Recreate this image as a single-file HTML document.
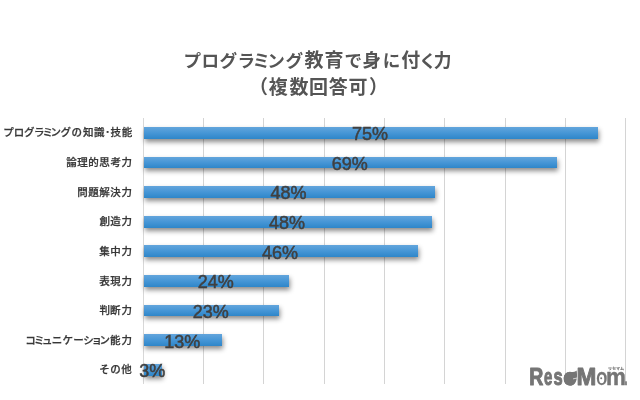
<!DOCTYPE html>
<html lang="ja"><head><meta charset="utf-8"><title>プログラミング教育で身に付く力</title>
<style>
html,body{margin:0;padding:0;background:#fff;}
body{width:640px;height:400px;position:relative;overflow:hidden;font-family:"Liberation Sans","Noto Sans CJK JP",sans-serif;}
.ts{position:absolute;left:0;top:0;font-family:"Liberation Sans","Noto Sans CJK JP",sans-serif;font-weight:bold;fill:#555;}
.ls{position:absolute;left:0;top:0;font-family:"Liberation Sans","Noto Sans CJK JP",sans-serif;font-size:10.5px;font-weight:500;fill:#383838;stroke:#383838;stroke-width:.25px;}
.vs{position:absolute;left:0;top:0;font-family:"Liberation Sans",sans-serif;font-size:18px;fill:#404040;text-anchor:middle;stroke:#404040;stroke-width:.5px;}
.g{position:absolute;top:118px;height:266px;width:1px;background:#c4c4c4;}
.b{position:absolute;left:144px;height:11.7px;background:linear-gradient(#63a5dc,#4696d6 50%,#2e86c9);box-shadow:1px 3px 5.5px rgba(0,0,0,.46);}
.lg{position:absolute;left:0;top:0;}
</style></head><body>
<svg class="ts" width="640" height="110" viewBox="0 0 640 110"><text y="67.0"><tspan x="183.51" font-size="17.6">プ</tspan><tspan x="201.56" font-size="17.6">ロ</tspan><tspan x="219.56" font-size="17.6">グ</tspan><tspan x="237.43" font-size="17.6">ラ</tspan><tspan x="252.47" font-size="17.6">ミ</tspan><tspan x="267.15" font-size="17.6">ン</tspan><tspan x="285.56" font-size="17.6">グ</tspan><tspan x="304.45" font-size="19.0">教</tspan><tspan x="324.40" font-size="19.0">育</tspan><tspan x="344.45" font-size="17.6">で</tspan><tspan x="362.55" font-size="18.4">身</tspan><tspan x="382.81" font-size="17.6">に</tspan><tspan x="401.15" font-size="19.0">付</tspan><tspan x="419.02" font-size="17.6">く</tspan><tspan x="433.72" font-size="17.8">力</tspan></text><text y="93.7"><tspan x="249.06" font-size="19">（</tspan><tspan x="268.75" font-size="19">複</tspan><tspan x="289.50" font-size="19">数</tspan><tspan x="309.00" font-size="19">回</tspan><tspan x="328.75" font-size="19">答</tspan><tspan x="348.60" font-size="19">可</tspan><tspan x="368.94" font-size="19">）</tspan></text></svg>

<div class="g" style="left:143.00px;background:#d8d8d8"></div>
<div class="g" style="left:203.00px;background:#d4d4d4"></div>
<div class="g" style="left:263.00px;background:#d4d4d4"></div>
<div class="g" style="left:324.00px;background:#d4d4d4"></div>
<div class="g" style="left:384.00px;background:#d4d4d4"></div>
<div class="g" style="left:444.00px;background:#d4d4d4"></div>
<div class="g" style="left:505.00px;background:#d4d4d4"></div>
<div class="g" style="left:565.00px;background:#d4d4d4"></div>
<div class="g" style="left:625.00px;background:#d4d4d4"></div>
<div class="b" style="top:127.00px;width:453.80px"></div>
<div class="b" style="top:156.62px;width:413.00px"></div>
<div class="b" style="top:186.24px;width:290.75px"></div>
<div class="b" style="top:215.86px;width:287.75px"></div>
<div class="b" style="top:245.48px;width:273.75px"></div>
<div class="b" style="top:275.10px;width:145.00px"></div>
<div class="b" style="top:304.72px;width:135.00px"></div>
<div class="b" style="top:334.34px;width:78.00px"></div>
<div class="b" style="top:363.96px;width:18.00px"></div>
<svg class="vs" width="640" height="400" viewBox="0 0 640 400"><text x="370.10" y="140.20">75%</text><text x="349.70" y="169.82">69%</text><text x="288.57" y="199.44">48%</text><text x="287.07" y="229.06">48%</text><text x="280.07" y="258.68">46%</text><text x="215.70" y="288.30">24%</text><text x="210.70" y="317.92">23%</text><text x="182.20" y="347.54">13%</text><text x="152.20" y="377.16">3%</text></svg>
<svg class="ls" width="143" height="400" viewBox="0 0 143 400"><text y="136.45" x="3.26 13.75 23.92 33.92 42.41 50.42 60.42 71.58 83.08 93.92 105.12 110.42 121.67">プログラミングの知識･技能</text><text y="166.07" x="66.17 77.25 88.17 99.25 110.50 121.41">論理的思考力</text><text y="195.69" x="77.25 88.25 99.33 110.17 121.41">問題解決力</text><text y="225.31" x="99.50 110.25 121.41">創造力</text><text y="254.93" x="99.25 110.25 121.41">集中力</text><text y="284.55" x="99.25 110.25 121.41">表現力</text><text y="314.17" x="99.50 110.00 121.41">判断力</text><text y="343.79" x="25.17 33.91 42.00 51.83 62.41 73.25 83.17 91.50 99.42 109.92 121.41">コミュニケーション能力</text><text y="373.41" x="99.33 110.33 121.33">その他</text></svg>
<svg class="lg" width="640" height="400" viewBox="0 0 640 400" fill="#757575"><text y="385.30" font-size="23.6" font-weight="bold" stroke="#757575" stroke-linejoin="round" font-family="Liberation Sans, sans-serif"><tspan x="529.28" textLength="14.09" lengthAdjust="spacingAndGlyphs" stroke-width="1.0">R</tspan><tspan x="544.03" textLength="8.34" lengthAdjust="spacingAndGlyphs" stroke-width="1.0">e</tspan><tspan x="553.48" textLength="9.19" lengthAdjust="spacingAndGlyphs" stroke-width="1.0">s</tspan><tspan x="563.37" textLength="12.90" lengthAdjust="spacingAndGlyphs" stroke-width="0.6">e</tspan><tspan x="576.46" textLength="19.82" lengthAdjust="spacingAndGlyphs" stroke-width="0.9">M</tspan><tspan x="596.18" textLength="11.06" lengthAdjust="spacingAndGlyphs" stroke-width="0.3">o</tspan><tspan x="606.03" textLength="19.92" lengthAdjust="spacingAndGlyphs" stroke-width="0.45">m</tspan><tspan x="624.47" textLength="3.02" lengthAdjust="spacingAndGlyphs" stroke-width="0.3">.</tspan></text><path d="M563.7 379.1 C563.5 375.0 566.6 372.0 570.6 372.1 C573.2 372.2 575.3 371.8 576.6 370.4 C577.1 373.0 577.2 376.0 576.7 378.9 C575.9 383.0 573.4 385.7 569.9 385.7 C566.3 385.7 563.9 383.0 563.7 379.1 Z"/><path d="M573.0 378.9 L577.3 378.0" stroke="#f4f4f4" stroke-width=".7" fill="none"/><ellipse cx="601.7" cy="379.0" rx="2.6" ry="4.2" fill="#fff"/><circle cx="601.2" cy="378.3" r="1.0"/><text x="608" y="369.6" font-size="3.8" stroke="#757575" stroke-width=".15" font-weight="bold" font-family="Liberation Sans, Noto Sans CJK JP, sans-serif" textLength="16" lengthAdjust="spacingAndGlyphs">リセマム</text></svg>
</body></html>
